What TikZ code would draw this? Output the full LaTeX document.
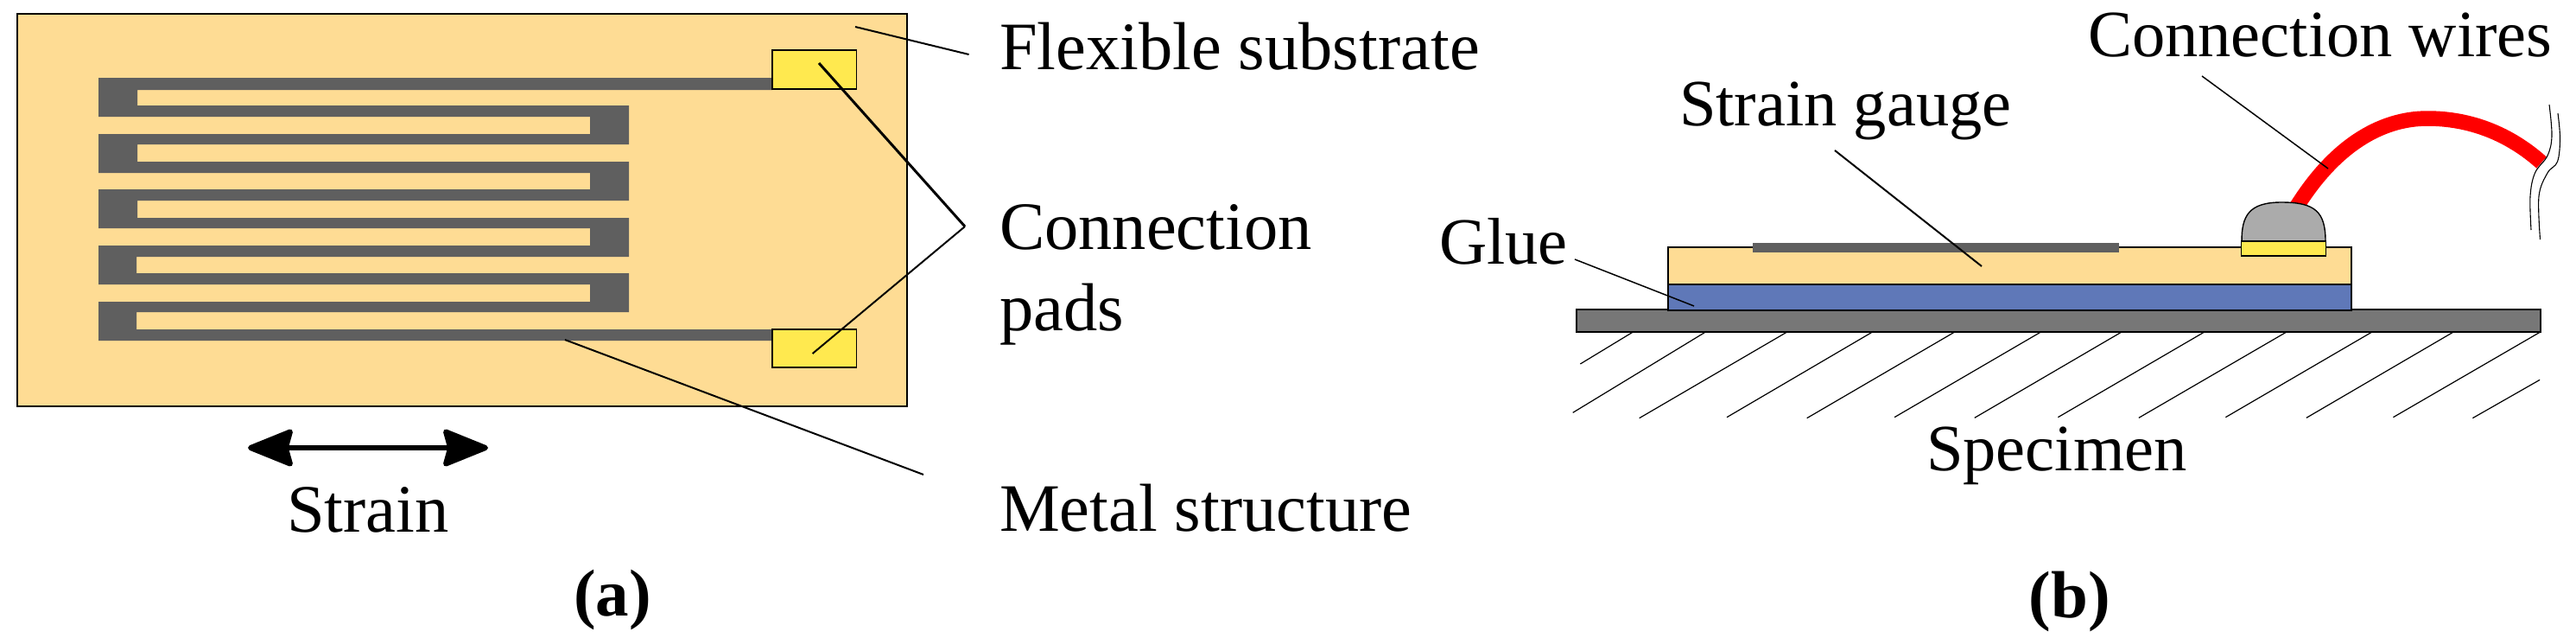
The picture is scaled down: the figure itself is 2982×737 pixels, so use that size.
\documentclass[tikz,border=0pt]{standalone}
\usepackage{fontspec}
\setmainfont{Liberation Serif}
\usetikzlibrary{arrows.meta}
\definecolor{subst}{HTML}{FEDC94}
\definecolor{metal}{HTML}{5F5F5F}
\definecolor{padc}{HTML}{FFE94F}
\definecolor{gluec}{HTML}{5F78B8}
\definecolor{specc}{HTML}{777777}
\definecolor{domec}{HTML}{ABABAB}
\tikzset{
  lbl/.style={anchor=base west,inner sep=0pt,outer sep=0pt,font=\fontsize{76.5}{80}\selectfont},
  lbla/.style={anchor=base west,inner sep=0pt,outer sep=0pt,font=\fontsize{78.5}{80}\selectfont},
  subcap/.style={anchor=base,inner sep=0pt,outer sep=0pt,font=\fontsize{77}{80}\selectfont\bfseries},
  part/.style={draw=black,line width=1.8pt},
  leader/.style={draw=black,line width=2pt},
  hatchline/.style={draw=black,line width=1.2pt},
  wavy/.style={draw=black,line width=1.1pt},
}
\begin{document}
\begin{tikzpicture}[x=1pt,y=-1pt]
\useasboundingbox (0,0) rectangle (2982,737);
% ---------- (a)
\path[part,fill=subst] (20,16) rectangle (1050,470);
\fill[metal] (894,90) -- (114,90) -- (114,135) -- (683,135) -- (683,155) -- (114,155) -- (114,200)
 -- (683,200) -- (683,219) -- (114,219) -- (114,264) -- (683,264) -- (683,284) -- (114,284)
 -- (114,329) -- (683,329) -- (683,349) -- (114,349) -- (114,394) -- (894,394) -- (894,381)
 -- (158,381) -- (158,361) -- (728,361) -- (728,316) -- (158,316) -- (158,297) -- (728,297)
 -- (728,252) -- (159,252) -- (159,232) -- (728,232) -- (728,187) -- (159,187) -- (159,167)
 -- (728,167) -- (728,122) -- (159,122) -- (159,104) -- (894,104) -- cycle;
\path[part,fill=padc] (894,58) rectangle (991.5,103);
\path[part,fill=padc] (894,381) rectangle (991.5,425);
\node[lbla] (flex) at (1157,80) {Flexible substrate};
\node[lbla] (conn) at (1157,288) {Connection};
\node[lbla] (pads) at (1157,382) {pads};
\node[lbla] (metalL) at (1157,614) {Metal structure};
\node[lbla,anchor=base] (strain) at (426,615) {Strain};
\node[subcap] (capa) at (709,712) {(a)};
\coordinate (fa) at (990,31); \coordinate (fb) at (1121.6,63);
\coordinate (pa) at (948,73); \coordinate (pb) at (1117,262); \coordinate (pc) at (940.6,409);
\coordinate (ma) at (654,393); \coordinate (mb) at (1069,549);
\coordinate (sa) at (287,518); \coordinate (sb) at (565,518);
\draw[leader] (fa) -- (fb);
\draw[leader,line width=3pt] (pa) -- (pb);
\draw[leader] (pb) -- (pc);
\draw[leader] (ma) -- (mb);
\draw[line width=6pt,{Stealth[length=58pt,width=46pt,inset=6pt,round]}-{Stealth[length=58pt,width=46pt,inset=6pt,round]}] (sa) -- (sb);
% ---------- (b)
\path[part,fill=specc] (1825,358) rectangle (2941,384);
\path[part,fill=subst] (1931,286) rectangle (2722,329);
\path[part,fill=gluec] (1931,329) rectangle (2722,359);
\fill[metal] (2029,281) rectangle (2453,292);
% wire
\draw[red,line width=17.5pt,line cap=butt] (2655,245) .. controls (2700,170) and (2755,137) .. (2810,137)
  .. controls (2860,137) and (2905,155) .. (2942,188);
\path[part,line width=1.4pt,fill=domec] (2595,279) .. controls (2595,250) and (2603,234) .. (2641,234)
  .. controls (2680,234) and (2692,245) .. (2692,279) -- cycle;
\path[part,fill=padc] (2594.5,279) rectangle (2692.5,296);
\draw[wavy] plot[smooth,tension=0.6] coordinates {(2951,121) (2954,157) (2949,180) (2934.5,200) (2929,227) (2930,266)};
\draw[wavy] plot[smooth,tension=0.6] coordinates {(2961,131) (2963.5,160) (2960.5,187) (2949,200) (2939,227) (2940.5,277)};
% hatching
\foreach \ax/\ay/\bx/\by in {178/133/101/243,287/130/90/412,405/133/188/431,533/130/317/428,652/133/435/431,779/133/564/428,898/133/682/430,1020/133/805/428,1141/133/924/430,1267/133/1052/428,1387/133/1171/430,1515/133/1299/428,1515/298/1416/431}
  \draw[hatchline] ({1750+\ax/1.273},{340+\ay/3}) -- ({1750+\bx/1.273},{340+\by/3});
\node[lbl] (wires) at (2417,65) {Connection wires};
\node[lbl] (gauge) at (1944,145) {Strain gauge};
\node[lbl] (glue) at (1666,305) {Glue};
\node[lbl] (spec) at (2230,544) {Specimen};
\node[subcap] (capb) at (2396,714) {(b)};
\coordinate (wa) at (2549,88); \coordinate (wb) at (2695,195);
\coordinate (ga) at (2124,174); \coordinate (gb) at (2294,308);
\coordinate (ua) at (1823,300); \coordinate (ub) at (1961,354);
\draw[leader,line width=1.5pt] (wa) -- (wb);
\draw[leader] (ga) -- (gb);
\draw[leader,line width=1.5pt] (ua) -- (ub);
\end{tikzpicture}
\end{document}
